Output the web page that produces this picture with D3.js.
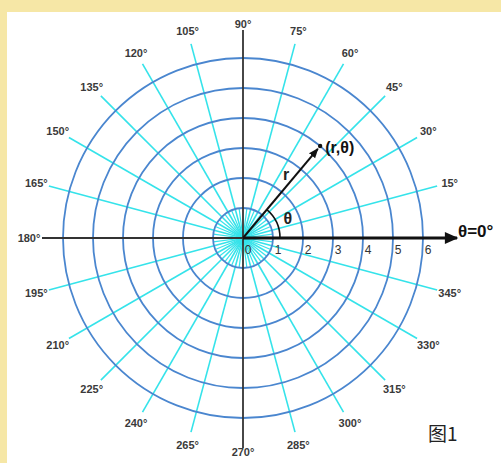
<!DOCTYPE html>
<html><head><meta charset="utf-8">
<script src="https://cdn.jsdelivr.net/npm/d3@7"></script>
<style>html,body{margin:0;padding:0;background:#fff;}svg{display:block;}</style>
</head><body>
<script>
const rings = [1, 2, 3, 4, 5, 6];
const spokeAngles = [15, 30, 45, 60, 75, 105, 120, 135, 150, 165, 195, 210, 225, 240, 255, 285, 300, 315, 330, 345];
const innerSpokeAngles = [7.5, 22.5, 37.5, 52.5, 67.5, 82.5, 97.5, 112.5, 127.5, 142.5, 157.5, 172.5, 187.5, 202.5, 217.5, 232.5, 247.5, 262.5, 277.5, 292.5, 307.5, 322.5, 337.5, 352.5];
const labelAngles = [15, 30, 45, 60, 75, 90, 105, 120, 135, 150, 165, 180, 195, 210, 225, 240, 255, 270, 285, 300, 315, 330, 345];
const labelTexts = ["15°", "30°", "45°", "60°", "75°", "90°", "105°", "120°", "135°", "150°", "165°", "180°", "195°", "210°", "225°", "240°", "265°", "270°", "285°", "300°", "315°", "330°", "345°"];
const radialTicks = ["0", "1", "2", "3", "4", "5", "6"];
const pointR = 4, pointTheta = 50;

const W = 501, H = 463, cx = 243, cy = 238;
const svg = d3.select("body").append("svg").attr("width", W).attr("height", H);
svg.append("rect").attr("width", W).attr("height", H).attr("fill", "#f6e7a6");
svg.append("rect").attr("x", 7).attr("y", 12).attr("width", W - 7).attr("height", H - 12).attr("fill", "#fff");

const rs = d3.scaleLinear().domain([0, 6]).range([0, 180]);
const g = svg.append("g").attr("transform", `translate(${cx},${cy})`);
const pt = (r, deg) => [r * Math.cos(deg * Math.PI / 180), -r * Math.sin(deg * Math.PI / 180)];

const defs = svg.append("defs");
defs.append("marker").attr("id", "ah").attr("viewBox", "0 0 10 10")
  .attr("refX", 9).attr("refY", 5).attr("markerWidth", 4.6).attr("markerHeight", 4.2)
  .attr("orient", "auto").attr("markerUnits", "strokeWidth")
  .append("path").attr("d", "M0,0.5 L10,5 L0,9.5 z").attr("fill", "#111");
defs.append("marker").attr("id", "ah2").attr("viewBox", "0 0 10 10")
  .attr("refX", 9).attr("refY", 5).attr("markerWidth", 5).attr("markerHeight", 5)
  .attr("orient", "auto").attr("markerUnits", "strokeWidth")
  .append("path").attr("d", "M0,1 L10,5 L0,9 z").attr("fill", "#111");

// inner spokes
g.selectAll("line.ins").data(innerSpokeAngles).join("line")
  .attr("x1", 0).attr("y1", 0)
  .attr("x2", d => pt(rs(1), d)[0]).attr("y2", d => pt(rs(1), d)[1])
  .attr("stroke", "#35e3ea").attr("stroke-width", 1.2);
// spokes
g.selectAll("line.sp").data(spokeAngles).join("line")
  .attr("x1", 0).attr("y1", 0)
  .attr("x2", d => pt(rs(6) + 21, d)[0]).attr("y2", d => pt(rs(6) + 21, d)[1])
  .attr("stroke", "#35e3ea").attr("stroke-width", 1.6);
// rings
g.selectAll("circle.ring").data(rings).join("circle")
  .attr("r", d => rs(d)).attr("fill", "none")
  .attr("stroke", "#4a86cf").attr("stroke-width", 1.8);

// axes
g.append("line").attr("x1", 0).attr("y1", -208).attr("x2", 0).attr("y2", 210)
  .attr("stroke", "#333").attr("stroke-width", 1.8);
g.append("line").attr("x1", -201).attr("y1", 0).attr("x2", 0).attr("y2", 0)
  .attr("stroke", "#333").attr("stroke-width", 1.8);
g.append("line").attr("x1", 0).attr("y1", 0).attr("x2", 214).attr("y2", 0)
  .attr("stroke", "#111").attr("stroke-width", 3.2).attr("marker-end", "url(#ah)");

// angle labels
g.selectAll("text.al").data(labelAngles).join("text")
  .attr("x", d => pt(214, d)[0]).attr("y", d => pt(214, d)[1])
  .attr("text-anchor", "middle").attr("dominant-baseline", "central")
  .attr("font-family", "Liberation Sans, Arial, sans-serif").attr("font-size", 11).attr("font-weight", "bold")
  .attr("fill", "#3a3a3a").text((d, i) => labelTexts[i]);

// radial tick labels
g.selectAll("text.rt").data(radialTicks).join("text")
  .attr("x", (d, i) => rs(i) + 5).attr("y", 12)
  .attr("text-anchor", "middle").attr("dominant-baseline", "central")
  .attr("font-family", "Liberation Sans, Arial, sans-serif").attr("font-size", 12)
  .attr("fill", "#333").text(d => d);

// vector to point
const P = pt(rs(pointR), pointTheta);
g.append("line").attr("x1", 0).attr("y1", 0).attr("x2", P[0] * 0.97).attr("y2", P[1] * 0.97)
  .attr("stroke", "#111").attr("stroke-width", 2).attr("marker-end", "url(#ah2)");
g.append("circle").attr("cx", P[0]).attr("cy", P[1]).attr("r", 2.2).attr("fill", "#111");
g.append("text").attr("x", P[0] + 5).attr("y", P[1] + 1).attr("dominant-baseline", "central")
  .attr("font-family", "Liberation Sans, Arial, sans-serif").attr("font-size", 16).attr("font-weight", "bold")
  .attr("fill", "#111").text("(r,θ)");
const rl = pt(77, 56);
g.append("text").attr("x", rl[0]).attr("y", rl[1]).attr("text-anchor", "middle").attr("dominant-baseline", "central")
  .attr("font-family", "Liberation Sans, Arial, sans-serif").attr("font-size", 16).attr("font-weight", "bold")
  .attr("fill", "#222").text("r");
// theta arc
const arc = d3.arc().innerRadius(37).outerRadius(37).startAngle(Math.PI / 2 - pointTheta * Math.PI / 180).endAngle(Math.PI / 2);
g.append("path").attr("d", arc()).attr("fill", "none").attr("stroke", "#111").attr("stroke-width", 1.6);
const tl = pt(49, 24);
g.append("text").attr("x", tl[0]).attr("y", tl[1]).attr("text-anchor", "middle").attr("dominant-baseline", "central")
  .attr("font-family", "Liberation Sans, Arial, sans-serif").attr("font-size", 16).attr("font-weight", "bold")
  .attr("fill", "#222").text("θ");

svg.append("text").attr("x", 458).attr("y", 231).attr("dominant-baseline", "central")
  .attr("font-family", "Liberation Sans, Arial, sans-serif").attr("font-size", 17).attr("font-weight", "bold")
  .attr("fill", "#111").text("θ=0°");
svg.append("text").attr("x", 428).attr("y", 432).attr("dominant-baseline", "central")
  .attr("font-family", "Noto Sans CJK SC, sans-serif").attr("font-size", 19)
  .attr("fill", "#222").text("图1");
</script>
</body></html>
